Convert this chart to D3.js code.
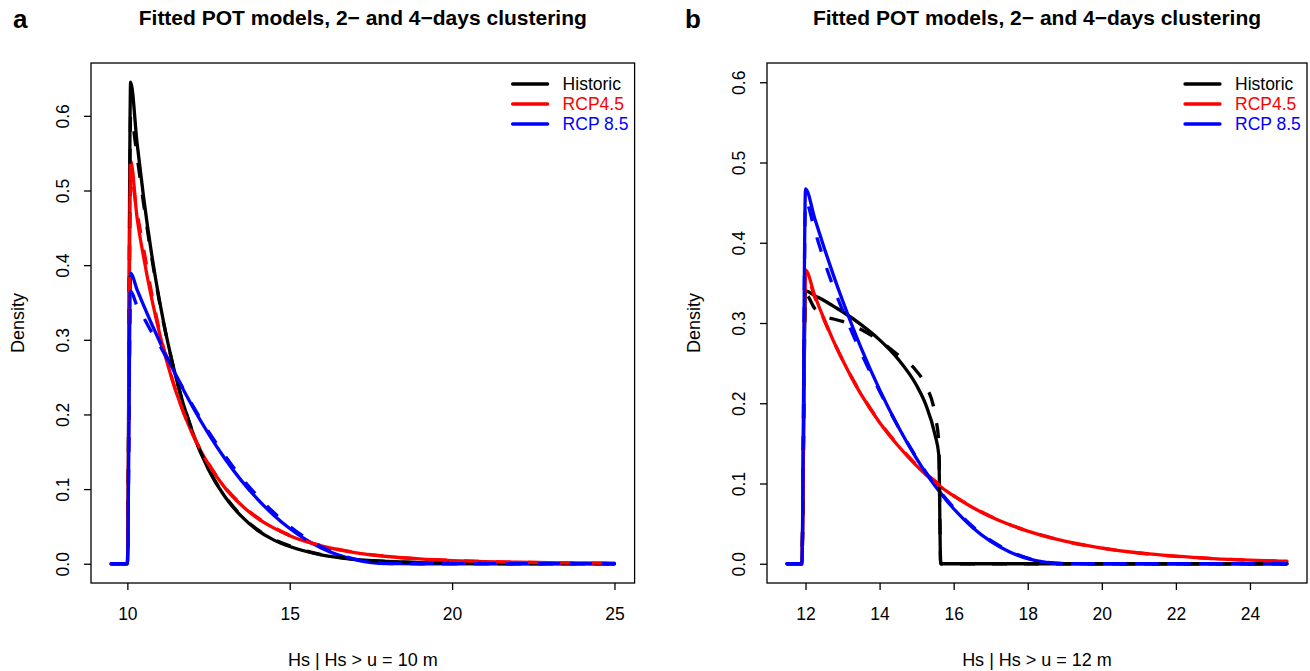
<!DOCTYPE html>
<html>
<head>
<meta charset="utf-8">
<script src="https://cdn.jsdelivr.net/npm/d3@7/dist/d3.min.js"></script>
<style>
body{margin:0;background:#fff;}
text{font-family:"Liberation Sans",Arial,Helvetica,sans-serif;}
</style>
</head>
<body>
<script>
//legend entries and colours
var seriesNames = ["Historic", "RCP4.5", "RCP 8.5"];
var seriesColors = ["#000000", "#ff0000", "#0000ff"];

//panel a: Hs grid (threshold u = 10 m) and densities, solid = 2-days, dashed = 4-days
var hsA = [9.5, 10, 10.1, 10.3, 10.5, 10.75, 11, 11.5, 12, 12.5, 13, 13.5, 14, 14.5, 15, 16, 17, 18, 19, 20, 21, 22, 23, 24, 25];
var histA2 = [0, 0, 0.645, 0.563, 0.491, 0.414, 0.350, 0.249, 0.177, 0.126, 0.090, 0.064, 0.045, 0.032, 0.023, 0.0116, 0.0059, 0.0030, 0.0015, 0.0008, 0.0004, 0.0002, 0.0001, 0.0001, 0];
var histA4 = [0, 0, 0.600, 0.545, 0.482, 0.410, 0.348, 0.249, 0.178, 0.127, 0.091, 0.065, 0.046, 0.033, 0.024, 0.012, 0.006, 0.003, 0.0015, 0.0008, 0.0004, 0.0002, 0.0001, 0.0001, 0];
var rcp45A2 = [0, 0, 0.540, 0.463, 0.411, 0.355, 0.307, 0.230, 0.174, 0.133, 0.102, 0.079, 0.061, 0.048, 0.0375, 0.0235, 0.0150, 0.0097, 0.0064, 0.0043, 0.0029, 0.0020, 0.0014, 0.0010, 0.0007];
var rcp45A4 = [0, 0, 0.520, 0.470, 0.422, 0.362, 0.310, 0.231, 0.175, 0.134, 0.103, 0.080, 0.062, 0.049, 0.038, 0.024, 0.0153, 0.0099, 0.0065, 0.0044, 0.003, 0.002, 0.0014, 0.001, 0.0007];
var rcp85A2 = [0, 0, 0.389, 0.367, 0.346, 0.321, 0.297, 0.252, 0.211, 0.174, 0.141, 0.112, 0.087, 0.0654, 0.0472, 0.0205, 0.0056, 0.0002, 0, 0, 0, 0, 0, 0, 0];
var rcp85A4 = [0, 0, 0.365, 0.345, 0.330, 0.310, 0.292, 0.252, 0.213, 0.177, 0.145, 0.116, 0.091, 0.069, 0.050, 0.022, 0.0062, 0.0004, 0, 0, 0, 0, 0, 0, 0];

//panel b: Hs grid (threshold u = 12 m)
var hsB = [11.5, 11.9, 12, 12.25, 12.5, 12.75, 13, 13.5, 14, 14.5, 15, 15.25, 15.5, 15.6, 15.65, 16, 16.5, 17, 17.5, 18, 18.5, 19, 20, 21, 22, 23, 24, 25];
var histB2 = [0, 0, 0.340, 0.334, 0.328, 0.321, 0.314, 0.298, 0.279, 0.255, 0.222, 0.198, 0.160, 0.135, 0, 0, 0, 0, 0, 0, 0, 0, 0, 0, 0, 0, 0, 0];
var histB4 = [0, 0, 0.336, 0.318, 0.308, 0.305, 0.302, 0.292, 0.278, 0.260, 0.240, 0.222, 0.185, 0.150, 0, 0, 0, 0, 0, 0, 0, 0, 0, 0, 0, 0, 0, 0];
var rcp45B2 = [0, 0, 0.366, 0.334, 0.305, 0.278, 0.254, 0.211, 0.176, 0.147, 0.122, 0.111, 0.102, 0.098, 0.096, 0.0846, 0.0704, 0.0586, 0.0488, 0.0406, 0.0338, 0.0282, 0.0195, 0.0135, 0.0094, 0.0065, 0.0045, 0.0031];
var rcp45B4 = [0, 0, 0.362, 0.332, 0.304, 0.278, 0.254, 0.212, 0.177, 0.148, 0.123, 0.112, 0.103, 0.099, 0.097, 0.085, 0.071, 0.059, 0.049, 0.041, 0.034, 0.028, 0.0195, 0.0134, 0.0093, 0.0064, 0.0044, 0.003];
var rcp85B2 = [0, 0, 0.467, 0.430, 0.394, 0.360, 0.328, 0.269, 0.217, 0.171, 0.131, 0.113, 0.097, 0.091, 0.088, 0.0685, 0.0456, 0.0279, 0.0150, 0.0064, 0.0016, 0.0001, 0, 0, 0, 0, 0, 0];
var rcp85B4 = [0, 0, 0.452, 0.415, 0.378, 0.345, 0.316, 0.263, 0.215, 0.171, 0.132, 0.114, 0.098, 0.092, 0.089, 0.070, 0.047, 0.029, 0.016, 0.007, 0.002, 0.0002, 0, 0, 0, 0, 0, 0];

//tick values
var xTicksA = [10, 15, 20, 25];
var xTicksB = [12, 14, 16, 18, 20, 22, 24];
var yTicks = [0, 0.1, 0.2, 0.3, 0.4, 0.5, 0.6];

var titleText = "Fitted POT models, 2\u2212 and 4\u2212days clustering";

window.onload = setChart();

function setChart(){
    //svg container
    var width = 1310,
        height = 671;

    var svg = d3.select("body")
        .append("svg")
        .attr("width", width)
        .attr("height", height);

    drawPanel(svg, {
        letter: "a", letterX: 13,
        left: 91, right: 634.6,
        xlim: [9.5, 25], ylim: [0, 0.645],
        xTicks: xTicksA,
        xTitle: "Hs | Hs > u = 10 m",
        hs: hsA,
        solid: [histA2, rcp45A2, rcp85A2],
        dashed: [histA4, rcp45A4, rcp85A4]
    });

    drawPanel(svg, {
        letter: "b", letterX: 685,
        left: 767, right: 1307,
        xlim: [11.5, 25], ylim: [0, 0.6],
        xTicks: xTicksB,
        xTitle: "Hs | Hs > u = 12 m",
        hs: hsB,
        solid: [histB2, rcp45B2, rcp85B2],
        dashed: [histB4, rcp45B4, rcp85B4]
    });
}

//R style axis limits: extend range by 4% on each side
function pad(lim){
    var d = (lim[1] - lim[0]) * 0.04;
    return [lim[0] - d, lim[1] + d];
}

function drawPanel(svg, p){
    var top = 63,
        bottom = 583;

    var x = d3.scaleLinear().domain(pad(p.xlim)).range([p.left, p.right]);
    var y = d3.scaleLinear().domain(pad(p.ylim)).range([bottom, top]);

    var g = svg.append("g");

    //curves
    var line = d3.line()
        .x(function(d){ return x(d[0]); })
        .y(function(d){ return y(d[1]); })
        .curve(d3.curveMonotoneX);

    function pairs(vals){
        return p.hs.map(function(h, i){ return [h, vals[i]]; });
    }

    p.solid.forEach(function(vals, i){
        g.append("path")
            .datum(pairs(vals))
            .attr("d", line)
            .attr("fill", "none")
            .attr("stroke", seriesColors[i])
            .attr("stroke-width", 3.3)
            .attr("stroke-linejoin", "round")
            .attr("stroke-linecap", "round");
    });

    p.dashed.forEach(function(vals, i){
        g.append("path")
            .datum(pairs(vals))
            .attr("d", line)
            .attr("fill", "none")
            .attr("stroke", seriesColors[i])
            .attr("stroke-width", 3.3)
            .attr("stroke-dasharray", "15,17")
            .attr("stroke-linejoin", "round");
    });

    //plot box
    g.append("rect")
        .attr("x", p.left)
        .attr("y", top)
        .attr("width", p.right - p.left)
        .attr("height", bottom - top)
        .attr("fill", "none")
        .attr("stroke", "#000")
        .attr("stroke-width", 1.3);

    //x axis
    var xAxis = g.append("g")
        .attr("transform", "translate(0," + bottom + ")")
        .call(d3.axisBottom(x).tickValues(p.xTicks).tickSize(7).tickPadding(18).tickFormat(d3.format("d")));
    xAxis.select(".domain").remove();
    xAxis.selectAll("line").attr("stroke-width", 1.3);
    xAxis.selectAll("text")
        .attr("font-size", 17.5)
        .attr("font-family", "Liberation Sans, Arial, sans-serif")
        .attr("fill", "#000");

    //y axis, labels rotated like R
    var yAxis = g.append("g")
        .attr("transform", "translate(" + p.left + ",0)")
        .call(d3.axisLeft(y).tickValues(yTicks).tickSize(7).tickFormat(d3.format(".1f")));
    yAxis.select(".domain").remove();
    yAxis.selectAll("line").attr("stroke-width", 1.3);
    yAxis.selectAll("text")
        .attr("x", 0)
        .attr("y", -22)
        .attr("dy", 0)
        .attr("transform", "rotate(-90)")
        .attr("text-anchor", "middle")
        .attr("font-size", 17.5)
        .attr("font-family", "Liberation Sans, Arial, sans-serif")
        .attr("fill", "#000");

    var cx = (p.left + p.right) / 2;

    //titles
    g.append("text")
        .attr("x", cx)
        .attr("y", 25)
        .attr("text-anchor", "middle")
        .attr("font-size", 21)
        .attr("font-weight", "bold")
        .text(titleText);

    g.append("text")
        .attr("x", p.letterX)
        .attr("y", 28)
        .attr("font-size", 26)
        .attr("font-weight", "bold")
        .text(p.letter);

    g.append("text")
        .attr("x", cx)
        .attr("y", 666)
        .attr("text-anchor", "middle")
        .attr("font-size", 18)
        .text(p.xTitle);

    g.append("text")
        .attr("transform", "translate(" + (p.left - 67) + "," + ((top + bottom) / 2) + ") rotate(-90)")
        .attr("text-anchor", "middle")
        .attr("font-size", 18)
        .text("Density");

    //legend without box
    var legend = g.append("g")
        .attr("transform", "translate(" + p.right + ",0)");
    seriesNames.forEach(function(name, i){
        var ly = 84 + i * 20;
        legend.append("line")
            .attr("x1", -122).attr("x2", -87)
            .attr("y1", ly).attr("y2", ly)
            .attr("stroke", seriesColors[i])
            .attr("stroke-width", 3.3)
            .attr("stroke-linecap", "round");
        legend.append("text")
            .attr("x", -72)
            .attr("y", ly + 6)
            .attr("font-size", 17.5)
            .attr("fill", seriesColors[i])
            .text(name);
    });
}
</script>
</body>
</html>
